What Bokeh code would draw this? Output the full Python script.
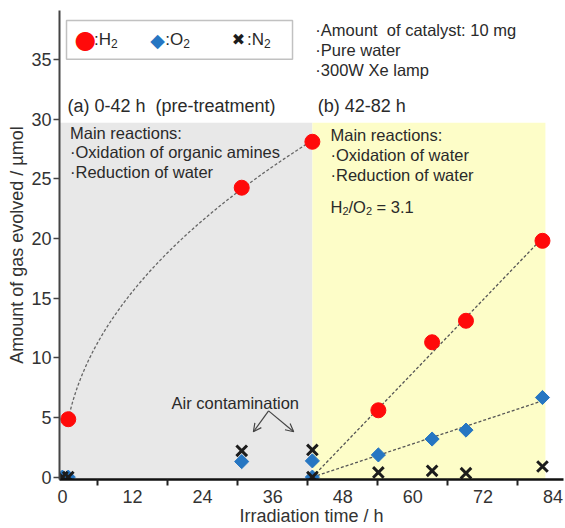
import numpy as np
from bokeh.plotting import figure
from bokeh.models import Range1d, FixedTicker, BoxAnnotation, Label, Arrow, OpenHead
from bokeh.embed import file_html
from bokeh.resources import INLINE

# ---- data: irradiation time (h) and amount of gas evolved (umol) ----
# (a) 0-42 h, pre-treatment
time_a = [0.0, 1.0, 30.7, 42.8]
time_a_h2 = [1.0, 30.7, 42.8]
h2_a = [4.85, 24.25, 28.1]
o2_a = [0.0, 0.0, 1.3, 1.36]
n2_a = [0.0, 0.0, 2.2, 2.28]

# (b) 42-82 h, after evacuation
time_b = [42.8, 54.1, 63.3, 69.1, 82.2]
h2_b = [0.0, 5.6, 11.3, 13.1, 19.8]
o2_b = [0.0, 1.86, 3.19, 3.94, 6.67]
n2_b = [0.0, 0.39, 0.53, 0.33, 0.89]

phase_edges = [0.0, 42.8, 82.7]
phase_top = 29.7

x_ticks = [0, 12, 24, 36, 48, 60, 72, 84]
x_minor = [6, 18, 30, 42, 54, 66, 78]
y_ticks = [0, 5, 10, 15, 20, 25, 30, 35]

RED = "#ff0a0a"
BLUE = "#2676c2"
DARK = "#1c1c1c"
TXT = "#2a2a2a"
FONT = "Liberation Sans"
NB = "\u00a0"

p = figure(width=565, height=528, output_backend="svg", toolbar_location=None,
           x_range=Range1d(-0.5, 85.8), y_range=Range1d(-0.2, 39.1),
           min_border_left=59, min_border_right=2, min_border_top=10,
           min_border_bottom=45)
p.outline_line_color = None
p.grid.grid_line_color = None
p.background_fill_color = "white"

# shaded phases
p.add_layout(BoxAnnotation(right=phase_edges[1], top=phase_top,
                           fill_color="#e8e8e8", fill_alpha=1.0,
                           line_color=None, level="underlay"))
p.add_layout(BoxAnnotation(left=phase_edges[1], right=phase_edges[2], top=phase_top,
                           fill_color="#fdfdc8", fill_alpha=1.0,
                           line_color=None, level="underlay"))

# trend lines
t_a = np.array(time_a_h2)
slope_pow, icpt = np.polyfit(np.log(t_a), np.log(h2_a), 1)
grid_a = np.linspace(t_a[0], t_a[-1], 120)
p.line(grid_a, np.exp(icpt) * grid_a ** slope_pow, line_color="#666666",
       line_width=1.3, line_dash="3 2")

tb = np.array(time_b)
dt = tb - tb[0]
for series in (h2_b, o2_b):
    yb = np.array(series)
    k = float((dt * yb).sum() / (dt * dt).sum())
    p.line([tb[0], tb[-1]], [0.0, k * dt[-1]], line_color="#555555",
           line_width=1.3, line_dash="3 2")

# markers
p.scatter(time_a_h2, h2_a, marker="circle", size=15, fill_color=RED, line_color=RED)
p.scatter(time_b[1:], h2_b[1:], marker="circle", size=15, fill_color=RED, line_color=RED)
p.scatter(time_a, o2_a, marker="square", angle=np.pi / 4, size=10,
          fill_color=BLUE, line_color=BLUE)
p.scatter(time_b, o2_b, marker="square", angle=np.pi / 4, size=10,
          fill_color=BLUE, line_color=BLUE)
p.scatter(time_a, n2_a, marker="x", size=15, line_color=DARK, line_width=3)
p.scatter(time_b, n2_b, marker="x", size=15, line_color=DARK, line_width=3)

# axes
p.xaxis.ticker = FixedTicker(ticks=x_ticks, minor_ticks=x_minor)
p.yaxis.ticker = FixedTicker(ticks=y_ticks)
for ax in (p.xaxis, p.yaxis):
    ax.major_label_text_font = FONT
    ax.major_label_text_font_size = "18px"
    ax.major_label_text_color = "#333333"
    ax.axis_label_text_font = FONT
    ax.axis_label_text_font_size = "18px"
    ax.axis_label_text_font_style = "normal"
    ax.axis_label_text_color = "#333333"
    ax.major_tick_in = 0
    ax.minor_tick_in = 0
p.xaxis.axis_label = "Irradiation time / h"
p.yaxis.axis_label = "Amount of gas evolved / \u00b5mol"
p.xaxis.axis_line_color = "#111111"
p.xaxis.axis_line_width = 2.5
p.xaxis.major_tick_out = 0
p.xaxis.minor_tick_out = 6
p.xaxis.minor_tick_line_color = "#222222"
p.xaxis.minor_tick_line_width = 2
p.xaxis.major_label_standoff = 4
p.xaxis.axis_label_standoff = 0
p.yaxis.axis_line_color = "#444444"
p.yaxis.axis_line_width = 2
p.yaxis.major_tick_out = 6
p.yaxis.major_tick_line_color = "#444444"
p.yaxis.major_tick_line_width = 1.5
p.yaxis.minor_tick_line_color = None
p.yaxis.major_label_standoff = 2
p.yaxis.axis_label_standoff = 1


def label(x, y, text, size=16.5, color=TXT, align="left", dx=0, dy=0, font=FONT):
    p.add_layout(Label(x=x, y=y, text=text, x_offset=dx, y_offset=dy,
                       text_font=font, text_font_size=f"{size}px",
                       text_color=color, text_align=align,
                       text_baseline="middle"))


# legend frame (drawn before its entries)
p.add_layout(BoxAnnotation(left=0.7, right=39.4, bottom=35.02, top=38.27,
                           fill_color="white", fill_alpha=1.0,
                           line_color="#333333", line_width=1.5))
label(3.95, 36.65, "\u25cf", 25, color=RED, align="center", font="DejaVu Sans")
label(16.3, 36.65, "\u25c6", 19, color=BLUE, align="center", font="DejaVu Sans")
label(30.15, 36.65, "\u2716", 16, color=DARK, align="center", font="DejaVu Sans")
label(5.4, 36.65, ":H", 17)
label(5.4, 36.65, "2", 12, dx=17, dy=-4)
label(17.6, 36.65, ":O", 17)
label(17.6, 36.65, "2", 12, dx=18, dy=-4)
label(31.6, 36.65, ":N", 17)
label(31.6, 36.65, "2", 12, dx=17, dy=-4)

# annotation texts
label(0.87, 31.1, f"(a) 0-42 h{NB}{NB}(pre-treatment)", 18)
label(43.7, 31.1, "(b) 42-82 h", 18)
label(1.3, 28.85, "Main reactions:")
label(1.3, 27.25, "\u00b7Oxidation of organic amines")
label(1.3, 25.6, "\u00b7Reduction of water")
label(45.9, 28.7, "Main reactions:")
label(45.9, 27.0, "\u00b7Oxidation of water")
label(45.9, 25.35, "\u00b7Reduction of water")

# H2/O2 = 3.1 with subscripts
label(45.9, 22.6, "H")
label(45.9, 22.6, "2", 11, dx=12, dy=-4)
label(45.9, 22.6, "/O", dx=18)
label(45.9, 22.6, "2", 11, dx=35.5, dy=-4)
label(45.9, 22.6, f"{NB}={NB}3.1", dx=41.5)

label(43.3, 37.45, f"\u00b7Amount{NB}{NB}of catalyst: 10 mg")
label(43.3, 35.8, "\u00b7Pure water")
label(43.3, 34.15, "\u00b7300W Xe lamp")

label(29.6, 6.2, "Air contamination", align="center")
for xe in (32.7, 39.6):
    p.add_layout(Arrow(end=OpenHead(size=8, line_width=1.2, line_color="#444444"),
                       x_start=35.3, y_start=5.55, x_end=xe, y_end=3.8,
                       line_color="#444444", line_width=1.2))

open("out.html", "w").write(file_html(p, INLINE))
